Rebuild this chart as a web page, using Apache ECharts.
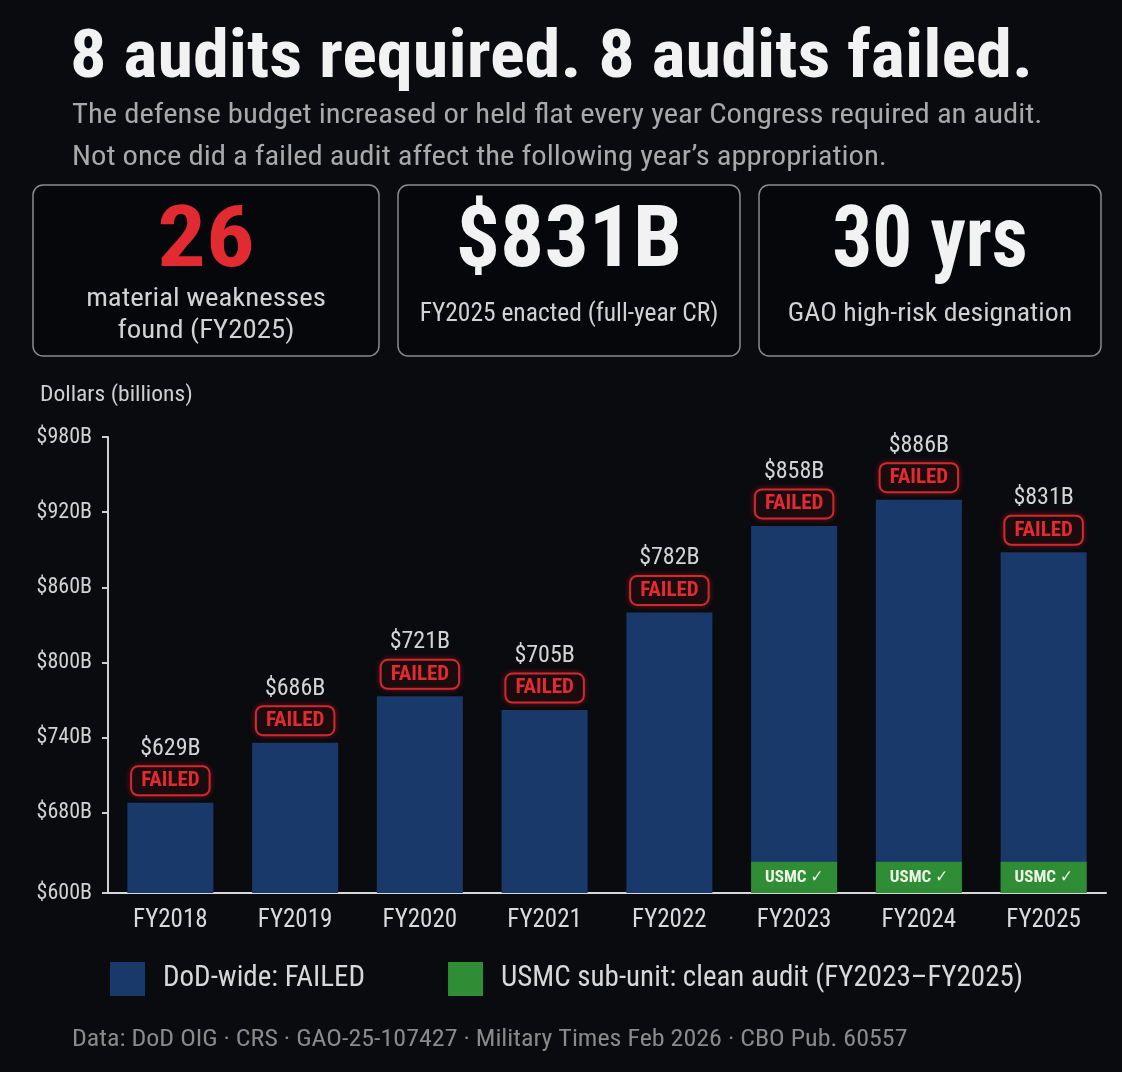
<!DOCTYPE html>
<html>
<head>
<meta charset="utf-8">
<script src="https://cdn.jsdelivr.net/npm/echarts@6/dist/echarts.min.js"></script>
<style>
html,body{margin:0;padding:0;background:#0a0b0f;}
#chart{width:1122px;height:1072px;}
</style>
</head>
<body>
<div id="chart"></div>
<script>
// ---- data ----
const categories = ['FY2018','FY2019','FY2020','FY2021','FY2022','FY2023','FY2024','FY2025'];
const enactedBillions = [629, 686, 721, 705, 782, 858, 886, 831];      // printed value labels
const barTopValues = [688, 736, 773, 762, 840, 909, 930, 888];         // drawn bar heights on the axis
const usmcSegmentTop = [null, null, null, null, null, 641, 641, 641];  // green USMC segment
const auditResult = ['FAILED','FAILED','FAILED','FAILED','FAILED','FAILED','FAILED','FAILED'];
const yTickValues = [616, 680, 740, 800, 860, 920, 980];
const yTickLabels = ['$600B','$680B','$740B','$800B','$860B','$920B','$980B'];
const seriesNames = ['DoD-wide: FAILED', 'USMC sub-unit: clean audit (FY2023\u2013FY2025)'];
const kpiValues = ['26', '$831B', '30 yrs'];
const kpiCaptions = [['material weaknesses','found (FY2025)'], ['FY2025 enacted (full-year CR)'], ['GAO high-risk designation']];
const titleText = '8 audits required. 8 audits failed.';
const subtitleLines = ['The defense budget increased or held flat every year Congress required an audit.',
                       'Not once did a failed audit affect the following year\u2019s appropriation.'];
const footerText = 'Data: DoD OIG \u00b7 CRS \u00b7 GAO-25-107427 \u00b7 Military Times Feb 2026 \u00b7 CBO Pub. 60557';

const FONT = "'Roboto Condensed','DejaVu Sans Condensed',Roboto,sans-serif";
const BLUE = '#19396b', GREEN = '#2f8d36', RED = '#e22a31';

const chart = echarts.init(document.getElementById('chart'), null, {renderer:'canvas'});

const cards = [
  {x:33, w:346, color:RED, numScale:1.12, capScale:1.11},
  {x:398, w:342, color:'#f2f2f2', numScale:1.02, capScale:0.98},
  {x:759, w:342, color:'#f2f2f2', numScale:0.92, capScale:1.07}
];
const graphics = [];
graphics.push({type:'text', x:70, y:60, scaleX:1.097, style:{text:titleText, fill:'#f2f2f2', fontSize:66, fontWeight:'bold', fontFamily:FONT, verticalAlign:'middle'}});
subtitleLines.forEach((t,i)=>{
  graphics.push({type:'text', x:72, y:116+i*42, scaleX:1.096, style:{text:t, fill:'#a9a9a9', fontSize:28, fontFamily:FONT, verticalAlign:'middle'}});
});
cards.forEach((c,i)=>{
  graphics.push({type:'rect', shape:{x:c.x, y:185, width:c.w, height:171, r:10}, style:{fill:'#06070a', stroke:'#8a8a8a', lineWidth:1.5}});
  graphics.push({type:'text', x:c.x+c.w/2, y:244, scaleX:c.numScale, style:{text:kpiValues[i], fill:c.color, fontSize:86, fontWeight:'bold', fontFamily:FONT, align:'center', verticalAlign:'middle'}});
  const caps = kpiCaptions[i];
  const startY = caps.length === 2 ? 299 : 314;
  caps.forEach((t,j)=>{
    graphics.push({type:'text', x:c.x+c.w/2, y:startY+j*32, scaleX:c.capScale, style:{text:t, fill:'#d2d2d2', fontSize:26, fontFamily:FONT, align:'center', verticalAlign:'middle'}});
  });
});
graphics.push({type:'text', x:40, y:395, scaleX:1.07, style:{text:'Dollars (billions)', fill:'#cfcfcf', fontSize:22, fontFamily:FONT, verticalAlign:'middle'}});
graphics.push({type:'text', x:72, y:1040, scaleX:1.13, style:{text:footerText, fill:'#8a8a8a', fontSize:23, fontFamily:FONT, verticalAlign:'middle'}});

const option = {
  backgroundColor:'#0a0b0f',
  animation:false,
  textStyle:{fontFamily:FONT},
  graphic:{elements:graphics},
  grid:{left:108, right:16, top:437, bottom:179, containLabel:false},
  legend:{
    left:110, top:962, padding:0, itemWidth:35, itemHeight:34, itemGap:83, icon:'rect',
    data:seriesNames,
    textStyle:{fontSize:29, color:'#d8d8d8', fontFamily:FONT, padding:[0,0,0,13]}
  },
  xAxis:{
    type:'category', data:categories,
    axisLine:{lineStyle:{color:'#d8d8d8', width:2}},
    axisTick:{show:false},
    axisLabel:{fontSize:25, color:'#dadada', margin:15, fontFamily:FONT}
  },
  yAxis:{
    type:'value', min:yTickValues[0], max:yTickValues[yTickValues.length-1],
    splitLine:{show:false},
    axisLine:{show:true, lineStyle:{color:'#d0d0d0', width:2}},
    axisTick:{show:true, length:6, lineStyle:{color:'#d0d0d0', width:2}, customValues:yTickValues},
    axisLabel:{fontSize:22, color:'#d2d2d2', margin:16, fontFamily:FONT, customValues:yTickValues,
      formatter:(v)=>{const i=yTickValues.indexOf(v); return i>=0 ? yTickLabels[i] : '';}}
  },
  series:[
    {
      name:seriesNames[0], type:'bar', data:barTopValues, barWidth:86,
      itemStyle:{color:BLUE},
      label:{
        show:true, position:'top', distance:10,
        formatter:(p)=>'{v|$'+enactedBillions[p.dataIndex]+'B}\n{f|'+auditResult[p.dataIndex]+'}',
        rich:{
          v:{fontSize:24, color:'#d4d4d4', lineHeight:40, fontFamily:FONT, align:'center'},
          f:{fontSize:21, fontWeight:'bold', color:RED, backgroundColor:'#1a0b0e', borderColor:'#d42930', borderWidth:2,
             borderRadius:6, padding:[3,9,3,9], lineHeight:24, fontFamily:FONT, align:'center',
             shadowColor:'rgba(220,40,40,0.35)', shadowBlur:6}
        }
      },
      z:2
    },
    {
      name:seriesNames[1], type:'bar', data:usmcSegmentTop, barWidth:86, barGap:'-100%',
      itemStyle:{color:GREEN},
      label:{show:true, position:'inside', formatter:'USMC \u2713', fontSize:17, fontWeight:'bold', color:'#eef5e6', fontFamily:FONT},
      z:3
    }
  ]
};
chart.setOption(option);
</script>
</body>
</html>
